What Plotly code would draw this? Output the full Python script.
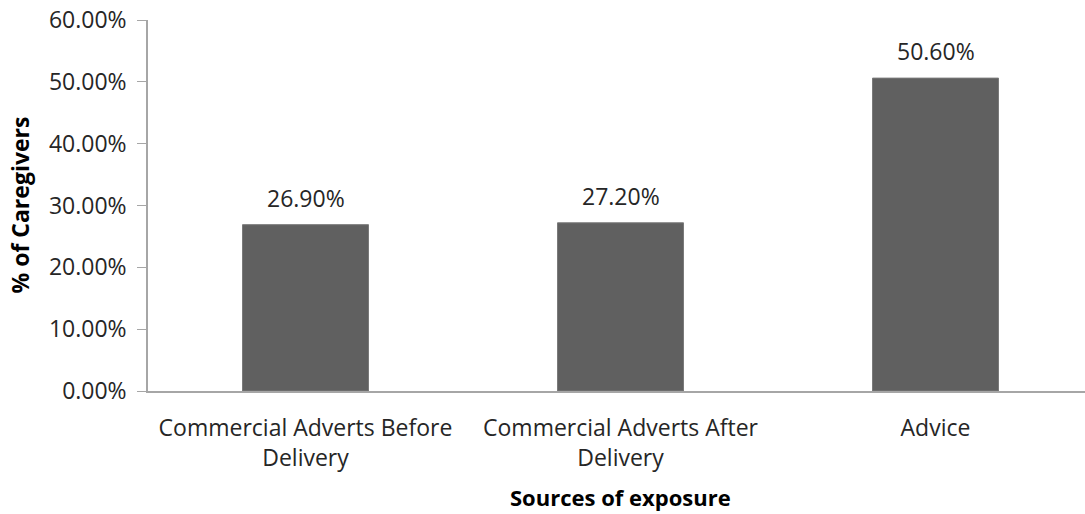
import plotly.graph_objects as go

categories = ["Commercial Adverts Before<br>Delivery", "Commercial Adverts After<br>Delivery", "Advice"]
values = [0.269, 0.272, 0.506]
value_labels = ["26.90%", "27.20%", "50.60%"]
y_ticks = [0, 0.1, 0.2, 0.3, 0.4, 0.5, 0.6]
y_tick_text = ["0.00%", "10.00%", "20.00%", "30.00%", "40.00%", "50.00%", "60.00%"]

FONT = "Open Sans"
TEXT = "#262626"
AXIS = "#a6a6a6"
BAR = "#606060"
PLOT_W = 1085 - 148

fig = go.Figure()
fig.add_trace(go.Bar(
    x=[0, 1, 2], y=values, width=0.4,
    marker=dict(color=BAR, line=dict(color="#7a7a7a", width=1)),
    hoverinfo="skip",
))

# value labels above each bar
for i, (v, t) in enumerate(zip(values, value_labels)):
    fig.add_annotation(x=i, y=v, xref="x", yref="y", text=t, showarrow=False,
                       yanchor="bottom", yshift=9,
                       font=dict(family=FONT, size=23, color=TEXT))

# x-axis title centred on the category band
fig.add_annotation(x=1, y=-106 / 371, xref="x", yref="paper", text="<b>Sources of exposure</b>",
                   showarrow=False, yanchor="middle",
                   font=dict(family=FONT, size=22, color="#000000"))

# y-axis title
fig.add_annotation(x=-(148 - 19) / PLOT_W, y=0.5, xref="paper", yref="paper",
                   text="<b>% of Caregivers</b>", textangle=-90, showarrow=False,
                   xanchor="center", yanchor="middle",
                   font=dict(family=FONT, size=23, color="#000000"))

fig.update_layout(
    width=1085, height=514,
    margin=dict(l=148, r=0, t=20, b=123),
    paper_bgcolor="white", plot_bgcolor="white",
    showlegend=False,
    font=dict(family=FONT, color=TEXT),
    xaxis=dict(
        range=[-0.5, -0.5 + PLOT_W / 315], tickmode="array", tickvals=[0, 1, 2],
        ticktext=categories, ticks="", showgrid=False, zeroline=False,
        showline=True, linecolor=AXIS, linewidth=1.5,
        tickfont=dict(family=FONT, size=23, color=TEXT),
        ticklabelstandoff=16,
    ),
    yaxis=dict(
        range=[0, 0.6], tickmode="array", tickvals=y_ticks, ticktext=y_tick_text,
        ticks="outside", ticklen=9, tickcolor=AXIS, tickwidth=1,
        showgrid=False, zeroline=False, showline=True, linecolor=AXIS, linewidth=1.5,
        tickfont=dict(family=FONT, size=23, color=TEXT),
        ticklabelstandoff=6,
    ),
)

fig.write_html("out.html")
